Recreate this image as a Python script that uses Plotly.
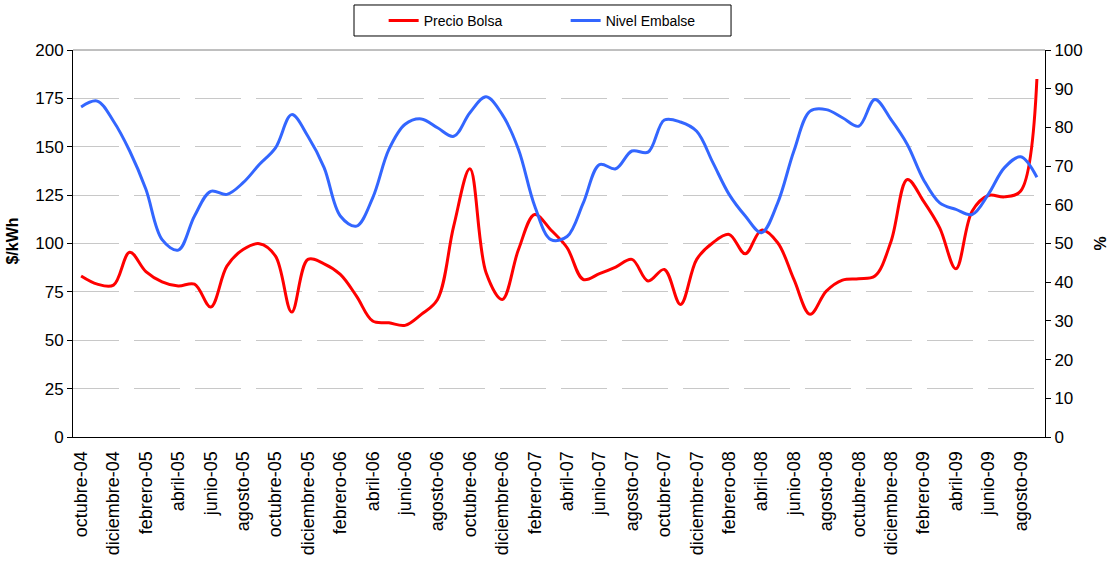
import plotly.graph_objects as go

# Monthly series, octubre-2004 .. septiembre-2009 (60 months)
month_index = list(range(60))

precio_bolsa = [
    83.2, 79.0, 78.5, 95.5, 85.5, 80.2, 78.0, 79.0, 67.2, 88.3,
    96.9, 99.9, 93.5, 64.6, 91.8, 89.5, 84.0, 72.8, 59.9, 59.0,
    57.7, 63.4, 71.1, 109.0, 138.6, 84.9, 71.1, 96.9, 115.0, 107.0,
    97.8, 81.4, 84.4, 87.8, 91.8, 80.6, 86.6, 68.5, 91.8, 100.4,
    104.7, 94.7, 106.9, 100.4, 81.4, 63.4, 75.4, 81.1, 81.8, 83.2,
    101.2, 133.1, 121.9, 108.1, 86.9, 116.7, 124.8, 124.1, 127.1, 185.0,
]

nivel_embalse = [
    85.3, 86.8, 81.6, 73.9, 64.0, 51.0, 48.3, 57.1, 63.5, 62.7,
    65.7, 70.4, 74.7, 83.3, 77.7, 69.6, 57.1, 54.5, 61.8, 74.3,
    80.8, 82.2, 79.9, 77.7, 83.8, 87.9, 83.3, 74.3, 59.7, 51.0,
    51.8, 60.5, 70.4, 69.3, 73.9, 73.6, 81.9, 81.4, 79.0, 70.9,
    62.7, 57.1, 52.8, 60.5, 73.9, 84.2, 84.6, 82.5, 80.3, 87.2,
    82.0, 75.6, 66.5, 60.5, 58.8, 57.5, 62.7, 69.6, 72.4, 67.1,
]

# Labels shown every second month
tick_positions = list(range(0, 60, 2))
tick_labels = [
    "octubre-04", "diciembre-04", "febrero-05", "abril-05", "junio-05",
    "agosto-05", "octubre-05", "diciembre-05", "febrero-06", "abril-06",
    "junio-06", "agosto-06", "octubre-06", "diciembre-06", "febrero-07",
    "abril-07", "junio-07", "agosto-07", "octubre-07", "diciembre-07",
    "febrero-08", "abril-08", "junio-08", "agosto-08", "octubre-08",
    "diciembre-08", "febrero-09", "abril-09", "junio-09", "agosto-09",
]

RED = "#FF0000"
BLUE = "#3366FF"
FONT = "Liberation Sans"

# tick marks sit on the boundaries between months
boundaries = [i - 0.5 for i in range(len(month_index) + 1)]
x_range = [boundaries[0], boundaries[-1]]

fig = go.Figure()
fig.add_trace(go.Scatter(
    x=month_index, y=precio_bolsa, name="Precio Bolsa", mode="lines",
    line=dict(color=RED, width=3, shape="spline", smoothing=1),
    xaxis="x", yaxis="y",
))
fig.add_trace(go.Scatter(
    x=month_index, y=nivel_embalse, name="Nivel Embalse", mode="lines",
    line=dict(color=BLUE, width=3, shape="spline", smoothing=1),
    xaxis="x", yaxis="y2",
))

common_tick = dict(tickcolor="black", tickwidth=1, ticklen=5)

fig.update_layout(
    width=1112, height=564,
    margin=dict(l=73, r=67, t=50, b=127, autoexpand=False),
    paper_bgcolor="white", plot_bgcolor="white",
    font=dict(family=FONT, color="black"),
    showlegend=True,
    legend=dict(
        orientation="h", x=0.3196, xanchor="left",
        y=1.1163, yanchor="top",
        font=dict(size=14, family=FONT), bgcolor="rgba(0,0,0,0)",
        borderwidth=0, entrywidth=137, entrywidthmode="pixels",
        tracegroupgap=0,
    ),
    xaxis=dict(
        range=x_range, tickmode="array", tickvals=tick_positions, ticktext=tick_labels,
        tickangle=-90, ticks="", showgrid=False, zeroline=False,
        showline=True, linecolor="black", linewidth=1, automargin=False,
        tickfont=dict(size=18, family=FONT), ticklabelstandoff=6,
    ),
    xaxis2=dict(
        range=x_range, overlaying="x", anchor="y", tickmode="array", tickvals=boundaries,
        ticks="outside", showticklabels=False, showgrid=False, zeroline=False,
        showline=False, **common_tick,
    ),
    xaxis3=dict(
        range=x_range, overlaying="x", anchor="y", tickmode="array", tickvals=boundaries,
        ticks="inside", showticklabels=False, showgrid=False, zeroline=False,
        showline=False, **common_tick,
    ),
    yaxis=dict(
        range=[0, 200], tickmode="linear", tick0=0, dtick=25,
        ticks="outside", **common_tick,
        showline=True, linecolor="black", linewidth=1, zeroline=False, automargin=False,
        showgrid=True, gridcolor="#c8c8c8", gridwidth=1, griddash="46px,15px",
        tickfont=dict(size=17, family=FONT),
    ),
    yaxis2=dict(
        range=[0, 100], tickmode="linear", tick0=0, dtick=10, overlaying="y", side="right",
        ticks="outside", **common_tick, automargin=False,
        showline=True, linecolor="black", linewidth=1, zeroline=False, showgrid=False,
        tickfont=dict(size=17, family=FONT),
    ),
    yaxis3=dict(
        range=[0, 200], tickmode="linear", tick0=0, dtick=25, overlaying="y", side="left",
        ticks="inside", **common_tick, showticklabels=False, showgrid=False,
        zeroline=False, showline=False,
    ),
    yaxis4=dict(
        range=[0, 100], tickmode="linear", tick0=0, dtick=10, overlaying="y", side="right",
        ticks="inside", **common_tick, showticklabels=False, showgrid=False,
        zeroline=False, showline=False,
    ),
    shapes=[
        # top border of the plot area
        dict(type="line", xref="paper", yref="paper", x0=0, x1=1, y0=1, y1=1,
             line=dict(color="#808080", width=1), layer="below"),
        # legend frame
        dict(type="rect", xref="paper", yref="paper",
             x0=0.2891, x1=0.677, y0=1.0362, y1=1.1163,
             line=dict(color="black", width=1), fillcolor="white", layer="below"),
    ],
    annotations=[
        dict(text="<b>$/kWh</b>", xref="paper", yref="paper", x=-0.0617, y=0.505,
             textangle=-90, showarrow=False, font=dict(size=16, family=FONT),
             xanchor="center", yanchor="middle"),
        dict(text="<b>%</b>", xref="paper", yref="paper", x=1.0576, y=0.5,
             textangle=-90, showarrow=False, font=dict(size=16, family=FONT),
             xanchor="center", yanchor="middle"),
    ],
)

fig.write_html("out.html")
